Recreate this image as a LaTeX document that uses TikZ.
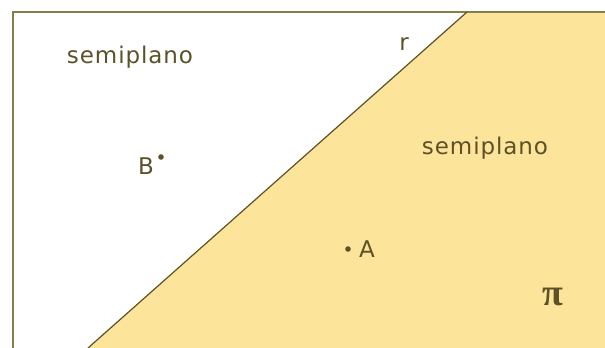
\documentclass[tikz,border=0pt]{standalone}
\usepackage{fontspec}
\newfontfamily\lblfont[LetterSpace=4]{DejaVu Sans}
\newfontfamily\pifont{Liberation Serif}
\definecolor{planefill}{HTML}{FDE49B}
\definecolor{frameline}{HTML}{857D4C}
\definecolor{inkcol}{HTML}{5C5127}
\begin{document}
\begin{tikzpicture}[
    x=0.5pt, y=-0.5pt,
    lbl/.style={inner sep=0pt, text=inkcol, font=\lblfont\fontsize{11.5}{13}\selectfont},
    pt/.style={circle, fill=inkcol, inner sep=0pt, minimum size=2.8pt}
]
\useasboundingbox (0,0) rectangle (605,348);

\coordinate (rtop) at (467,12);
\coordinate (rbot) at (88,348);

\fill[planefill] (rtop) -- (605,12) -- (605,348) -- (rbot) -- cycle;
\draw[frameline, line width=1pt] (13,348) -- (13,12) -- (605,12);
\draw[inkcol, line width=0.6pt] (rtop) -- (rbot);

\node[lbl] (sl) at (130,57) {semiplano};
\node[lbl] (sr) at (485,148) {semiplano};
\node[lbl] (r) at (404,44) {r};

\node[pt] (B) at (161,157) {};
\node[lbl] (lB) at (146,166) {B};
\node[pt] (A) at (348,249) {};
\node[lbl] (lA) at (367,249) {A};

\node[inner sep=0pt, text=inkcol, font=\pifont\bfseries\fontsize{19}{21}\selectfont] (pi) at (553,297) {π};

\end{tikzpicture}
\end{document}
